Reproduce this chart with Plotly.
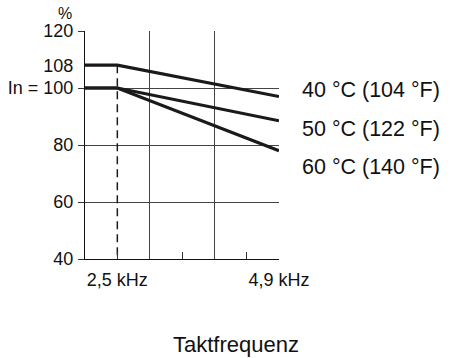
import plotly.graph_objects as go

# x positions: half-column index (0..6)
x_pos = [0, 1, 6]
s40 = [108, 108, 97]
s50 = [100, 100, 88.5]
s60 = [100, 100, 78]
series_names = ["40 °C (104 °F)", "50 °C (122 °F)", "60 °C (140 °F)"]
label_y = [99.3, 85.6, 72.3]

x_tickvals = [1, 3, 5, 6]
x_ticktext = ["2,5 kHz", "", "", "4,9 kHz"]
x_gridvals = [2, 4, 6]
y_tickvals = [40, 60, 80, 100, 108, 120]
y_ticktext = ["40", "60", "80", "In = 100", "108", "120"]
y_gridvals = [40, 60, 80, 100, 120]
dash_x = [1, 1]
dash_y = [108, 40]

FONT = "Liberation Sans, Arial, sans-serif"
ink = "#1a1a1a"

fig = go.Figure()
fig.add_trace(go.Scatter(x=dash_x, y=dash_y, mode="lines",
                         line=dict(color=ink, width=1.5, dash="8px,5px"),
                         showlegend=False, hoverinfo="skip"))
for ys in (s40, s50, s60):
    fig.add_trace(go.Scatter(x=x_pos, y=ys, mode="lines",
                             line=dict(color=ink, width=3.2),
                             showlegend=False))

fig.update_layout(
    width=450, height=358,
    margin=dict(l=85, r=171, t=31, b=99),
    plot_bgcolor="white", paper_bgcolor="white",
    font=dict(family=FONT, color="#111", size=17),
    xaxis=dict(range=[0, 6], showgrid=False, zeroline=False, automargin=False,
               tickvals=x_tickvals, ticktext=x_ticktext,
               ticks="inside", ticklen=7, tickcolor="#333", tickwidth=1,
               ticklabelstandoff=4,
               showline=True, linecolor="#111", linewidth=1.2,
               tickfont=dict(size=18),
               minor=dict(tickvals=x_gridvals, ticks="", showgrid=True,
                          gridcolor="#444", gridwidth=1)),
    yaxis=dict(range=[40, 120], showgrid=False, zeroline=False, automargin=False,
               tickvals=y_tickvals, ticktext=y_ticktext, ticks="",
               ticklabelstandoff=7,
               showline=True, linecolor="#111", linewidth=1.2,
               tickfont=dict(size=18),
               minor=dict(tickvals=y_gridvals, ticks="outside", ticklen=6,
                          tickcolor="#333", showgrid=True,
                          gridcolor="#444", gridwidth=1)),
)

for name, yv in zip(series_names, label_y):
    fig.add_annotation(x=1.108, xref="paper", y=yv, yref="y", text=name,
                       showarrow=False, xanchor="left", yanchor="middle",
                       font=dict(size=21.5, family=FONT, color="#111"))

fig.add_annotation(x=0, xref="paper", y=1, yref="paper", text="%",
                   showarrow=False, xanchor="right", yanchor="middle",
                   xshift=-11, yshift=18, font=dict(size=16, family=FONT))
fig.add_annotation(x=0.778, xref="paper", y=-0.373, yref="paper",
                   text="Taktfrequenz", showarrow=False,
                   xanchor="center", yanchor="middle",
                   font=dict(size=22, family=FONT, color="#111"))

fig.write_html("out.html",
               config={"displayModeBar": False},
               post_script="document.body.style.margin='0';document.body.style.overflow='hidden';")
